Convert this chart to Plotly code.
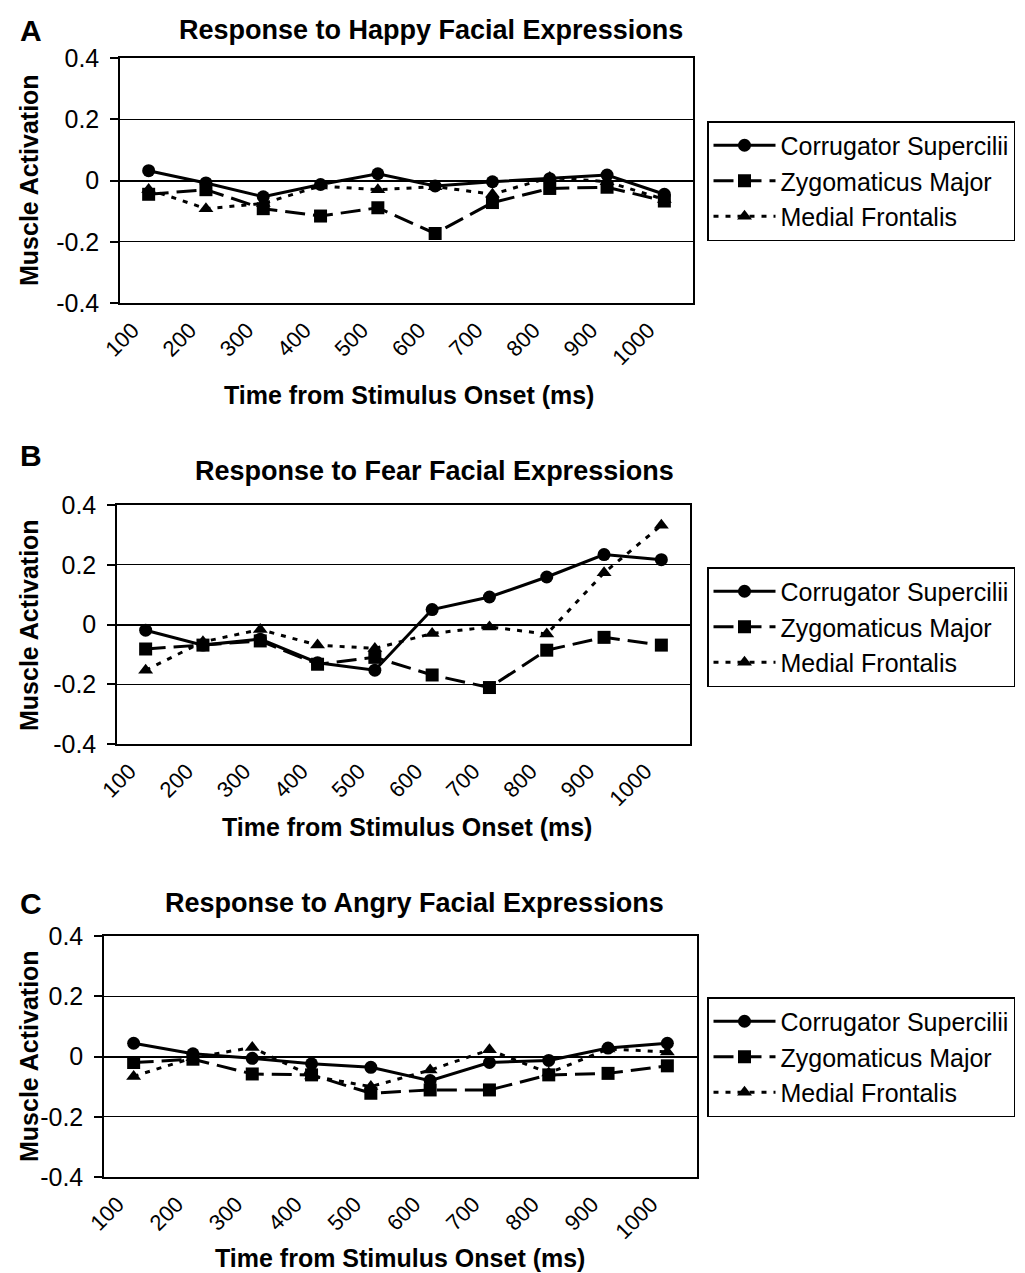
import plotly.graph_objects as go

# ---------------- data ----------------
time_labels = ["100", "200", "300", "400", "500", "600", "700", "800", "900", "1000"]
series_names = ["Corrugator Supercilii", "Zygomaticus Major", "Medial Frontalis"]

happy_corrugator = [0.032, -0.008, -0.053, -0.013, 0.022, -0.018, -0.004, 0.006, 0.018, -0.045]
happy_zygomaticus = [-0.045, -0.030, -0.092, -0.116, -0.089, -0.173, -0.072, -0.026, -0.022, -0.067]
happy_medial = [-0.029, -0.092, -0.075, -0.018, -0.030, -0.020, -0.045, 0.010, -0.004, -0.062]

fear_corrugator = [-0.019, -0.069, -0.049, -0.128, -0.153, 0.050, 0.092, 0.159, 0.234, 0.217]
fear_zygomaticus = [-0.082, -0.069, -0.055, -0.133, -0.110, -0.169, -0.211, -0.086, -0.043, -0.069]
fear_medial = [-0.153, -0.058, -0.017, -0.069, -0.080, -0.030, -0.008, -0.032, 0.173, 0.332]

angry_corrugator = [0.044, 0.009, -0.006, -0.024, -0.036, -0.080, -0.020, -0.013, 0.028, 0.044]
angry_zygomaticus = [-0.020, -0.009, -0.058, -0.061, -0.122, -0.111, -0.111, -0.061, -0.056, -0.031]
angry_medial = [-0.066, -0.004, 0.030, -0.065, -0.100, -0.045, 0.022, -0.055, 0.025, 0.015]

y_tickvals = [-0.4, -0.2, 0, 0.2, 0.4]
y_ticktext = ["-0.4", "-0.2", "0", "0.2", "0.4"]

panel_letters = ["A", "B", "C"]
panel_titles = ["Response to Happy Facial Expressions",
                "Response to Fear Facial Expressions",
                "Response to Angry Facial Expressions"]
x_title = "Time from Stimulus Onset (ms)"
y_title = "Muscle Activation"

panels = [
    [happy_corrugator, happy_zygomaticus, happy_medial],
    [fear_corrugator, fear_zygomaticus, fear_medial],
    [angry_corrugator, angry_zygomaticus, angry_medial],
]

# ---------------- layout geometry (pixels, page coordinates) ----------------
W, H = 1025, 1273
PAGE_OFFSET = 8  # default body margin of the html page
FONT = "Liberation Sans, Arial, Helvetica, sans-serif"

def px_x(x):
    return (x - PAGE_OFFSET) / W

def px_y(y):
    return 1 - (y - PAGE_OFFSET) / H

plot_boxes = [  # left, right, top, bottom
    (120, 693, 58, 303),
    (117, 690, 505, 744),
    (104, 697, 936, 1177),
]
letter_pos = [(31, 30), (31, 456), (31, 903)]
title_pos = [(431, 30), (434, 471), (414, 903)]
ytitle_pos = [(29, 180), (29, 625), (29, 1056)]
xtitle_pos = [(409, 395), (407, 827), (400, 1258)]
legend_pos = [(707, 121), (707, 567), (707, 997)]

line_styles = [
    dict(dash="solid", symbol="circle"),
    dict(dash="20px,8px", symbol="square"),
    dict(dash="5px,7px", symbol="triangle-up"),
]

fig = go.Figure()
legend_ids = ["legend", "legend2", "legend3"]

for p, data in enumerate(panels):
    xa = "x" if p == 0 else f"x{p + 1}"
    ya = "y" if p == 0 else f"y{p + 1}"
    for s, vals in enumerate(data):
        st = line_styles[s]
        fig.add_trace(go.Scatter(
            x=time_labels, y=vals, name=series_names[s],
            mode="lines+markers",
            line=dict(color="black", width=3, dash=st["dash"]),
            marker=dict(symbol=st["symbol"], size=13, color="black"),
            xaxis=xa, yaxis=ya, legend=legend_ids[p], showlegend=True,
        ))

annotations = []
layout = dict(
    width=W, height=H, autosize=False,
    margin=dict(l=0, r=0, t=0, b=0, pad=0, autoexpand=False),
    paper_bgcolor="white", plot_bgcolor="white",
    font=dict(family=FONT, color="black"),
)

for p in range(3):
    l, r, t, b = plot_boxes[p]
    xdom = [px_x(l), px_x(r)]
    ydom = [px_y(b), px_y(t)]
    sfx = "" if p == 0 else str(p + 1)
    layout[f"xaxis{sfx}"] = dict(
        domain=xdom, anchor=f"y{sfx}", type="category",
        categoryorder="array", categoryarray=time_labels,
        range=[-0.5, len(time_labels) - 0.5],
        showgrid=False, zeroline=False, ticks="",
        showline=True, linecolor="black", linewidth=1.5, mirror=True,
        tickangle=-45, tickfont=dict(size=22, family=FONT, color="black"),
        ticklabelstandoff=4, ticklabelshift=-16, automargin=False,
    )
    layout[f"yaxis{sfx}"] = dict(
        domain=ydom, anchor=f"x{sfx}", range=[-0.4, 0.4],
        tickvals=y_tickvals, ticktext=y_ticktext,
        showgrid=True, gridcolor="black", gridwidth=1,
        zeroline=True, zerolinecolor="black", zerolinewidth=1.5,
        showline=True, linecolor="black", linewidth=1.5, mirror=True,
        ticks="outside", ticklen=8, tickcolor="black", tickwidth=1.5,
        ticklabelstandoff=6,
        tickfont=dict(size=25, family=FONT, color="black"), automargin=False,
    )
    # tick marks hanging from the zero line (category boundaries)
    layout[f"xaxis{p + 4}"] = dict(
        overlaying=f"x{sfx}", anchor="free", position=(ydom[0] + ydom[1]) / 2,
        domain=xdom, range=[-0.5, len(time_labels) - 0.5],
        tickvals=[i + 0.5 for i in range(len(time_labels) - 1)],
        showticklabels=False, ticks="outside", ticklen=8, tickwidth=1.2,
        tickcolor="black", showgrid=False, zeroline=False, showline=False,
        automargin=False,
    )
    lx, ly = legend_pos[p]
    layout[legend_ids[p]] = dict(
        x=px_x(lx), y=px_y(ly), xanchor="left", yanchor="top",
        xref="paper", yref="paper",
        bgcolor="white", bordercolor="black", borderwidth=1.5,
        font=dict(size=25, family=FONT, color="black"),
        itemwidth=62, traceorder="normal", tracegroupgap=0,
    )
    ax, ay = letter_pos[p]
    common = dict(xref="paper", yref="paper", showarrow=False,
                  xanchor="center", yanchor="middle")
    annotations.append(dict(x=px_x(ax), y=px_y(ay), text=f"<b>{panel_letters[p]}</b>",
                            font=dict(size=30, family=FONT, color="black"), **common))
    tx, ty = title_pos[p]
    annotations.append(dict(x=px_x(tx), y=px_y(ty), text=f"<b>{panel_titles[p]}</b>",
                            font=dict(size=27, family=FONT, color="black"), **common))
    yx, yy = ytitle_pos[p]
    annotations.append(dict(x=px_x(yx), y=px_y(yy), text=f"<b>{y_title}</b>", textangle=-90,
                            font=dict(size=25, family=FONT, color="black"), **common))
    xx, xy = xtitle_pos[p]
    annotations.append(dict(x=px_x(xx), y=px_y(xy), text=f"<b>{x_title}</b>",
                            font=dict(size=25, family=FONT, color="black"), **common))

layout["annotations"] = annotations
fig.update_layout(**layout)

fig.write_html("out.html")
